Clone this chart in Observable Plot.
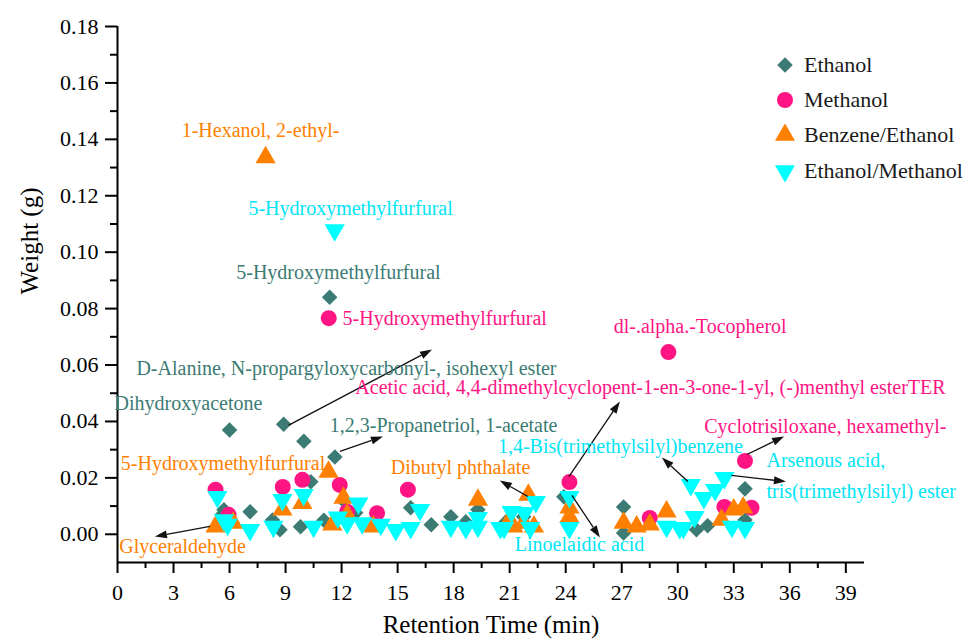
<!DOCTYPE html>
<html><head><meta charset="utf-8">
<script src="https://cdn.jsdelivr.net/npm/d3@7"></script>
<script src="https://cdn.jsdelivr.net/npm/@observablehq/plot@0.6"></script>
<style>
body{margin:0;background:#fff;}
#wrap{position:relative;width:968px;height:644px;}
#legend{position:absolute;left:775px;top:47px;font-family:"Liberation Serif","Times New Roman",serif;font-size:22px;color:#1a1a1a;}
.row{display:flex;align-items:center;height:35.3px;}
.row svg{margin-right:9px;}
</style></head><body><div id="wrap"><div id="legend"></div></div>
<script>
// ---- data ----
const seriesNames = ["Ethanol", "Methanol", "Benzene/Ethanol", "Ethanol/Methanol"];
const seriesColors = ["#3b7b73", "#ff1483", "#ff8000", "#00ffff"];
const labelColors = ["#3b7b73", "#ff1483", "#ff8000", "#00e5f5"];

const ethanolTime = [11.36, 6.0, 8.9, 9.98, 11.64, 10.35, 5.7, 5.6, 7.1, 8.3, 8.7, 9.8, 11.05, 12.1, 12.75, 15.7, 16.8, 17.85, 18.65, 19.3, 20.8, 21.75, 23.9, 27.1, 27.1, 31.0, 31.6, 33.6, 33.6];
const ethanolWeight = [0.084, 0.037, 0.039, 0.033, 0.0274, 0.0186, 0.0087, 0.0069, 0.008, 0.0051, 0.0016, 0.0027, 0.005, 0.012, 0.0076, 0.0094, 0.0034, 0.0062, 0.0044, 0.0087, 0.0044, 0.0062, 0.0133, 0.0097, 0.0005, 0.0016, 0.003, 0.0161, 0.0051];

const methanolTime = [11.31, 29.5, 24.2, 33.6, 5.25, 8.85, 9.9, 11.9, 5.95, 12.3, 13.9, 15.55, 28.5, 32.5, 33.95];
const methanolWeight = [0.0766, 0.0646, 0.0185, 0.026, 0.0158, 0.0168, 0.0193, 0.0175, 0.0069, 0.008, 0.0075, 0.0158, 0.0058, 0.0097, 0.0094];

const benzeneTime = [7.93, 11.3, 8.83, 9.9, 5.25, 6.2, 11.5, 12.1, 12.3, 13.7, 19.3, 20.9, 21.2, 21.75, 22.0, 22.3, 24.2, 24.2, 27.1, 27.8, 28.5, 29.4, 32.35, 33.0, 33.5];
const benzeneWeight = [0.1336, 0.0221, 0.0087, 0.011, 0.0027, 0.004, 0.0034, 0.0129, 0.0069, 0.0027, 0.0122, 0.004, 0.0027, 0.004, 0.014, 0.0027, 0.0094, 0.0062, 0.004, 0.0027, 0.0034, 0.008, 0.0051, 0.0087, 0.0094];

const ethMethTime = [11.63, 5.35, 8.83, 9.97, 5.7, 5.9, 7.1, 8.35, 10.5, 11.8, 12.9, 12.3, 13.1, 14.1, 14.9, 15.7, 16.2, 17.85, 18.65, 19.3, 19.3, 20.5, 20.7, 21.1, 21.8, 22.4, 22.1, 24.2, 24.2, 29.4, 30.1, 30.3, 30.9, 30.7, 31.4, 32.0, 32.5, 32.9, 33.6];
const ethMethWeight = [0.1078, 0.0133, 0.0122, 0.014, 0.005, 0.0034, 0.0016, 0.0027, 0.0027, 0.006, 0.011, 0.004, 0.004, 0.0034, 0.0016, 0.0023, 0.0087, 0.0027, 0.0023, 0.0058, 0.0027, 0.0023, 0.0023, 0.008, 0.0076, 0.0115, 0.0023, 0.0133, 0.0023, 0.0027, 0.0023, 0.0023, 0.0062, 0.0175, 0.0129, 0.0158, 0.02, 0.0027, 0.0023];

const xTicks = [0, 3, 6, 9, 12, 15, 18, 21, 24, 27, 30, 33, 36, 39];
const xMinorTicks = [1.5, 4.5, 7.5, 10.5, 13.5, 16.5, 19.5, 22.5, 25.5, 28.5, 31.5, 34.5, 37.5];
const yTicks = [0, 0.02, 0.04, 0.06, 0.08, 0.10, 0.12, 0.14, 0.16, 0.18];
const yMinorTicks = [0.01, 0.03, 0.05, 0.07, 0.09, 0.11, 0.13, 0.15, 0.17];

// annotations: text, position (data units), series index for colour, anchor
const labelText = [
  "1-Hexanol, 2-ethyl-",
  "5-Hydroxymethylfurfural",
  "5-Hydroxymethylfurfural",
  "5-Hydroxymethylfurfural",
  "dl-.alpha.-Tocopherol",
  "D-Alanine, N-propargyloxycarbonyl-, isohexyl ester",
  "Acetic acid, 4,4-dimethylcyclopent-1-en-3-one-1-yl, (-)menthyl esterTER",
  "Dihydroxyacetone",
  "1,2,3-Propanetriol, 1-acetate",
  "Cyclotrisiloxane, hexamethyl-",
  "1,4-Bis(trimethylsilyl)benzene",
  "5-Hydroxymethylfurfural",
  "Arsenous acid,",
  "tris(trimethylsilyl) ester",
  "Dibutyl phthalate",
  "Glyceraldehyde",
  "Linoelaidic acid"
];
const labelX = [7.66, 12.48, 11.83, 12.05, 31.2, 12.26, 28.54, 3.8, 17.46, 37.9, 26.93, 5.65, 34.75, 34.75, 18.37, 3.48, 24.74];
const labelY = [0.143, 0.1156, 0.0926, 0.0766, 0.0735, 0.0589, 0.0519, 0.0462, 0.0384, 0.038, 0.031, 0.0249, 0.026, 0.015, 0.0235, -0.0042, -0.0038];
const labelSeries = [2, 3, 0, 1, 1, 0, 1, 0, 0, 1, 3, 2, 3, 3, 2, 2, 3];
const labelAnchor = ["middle", "middle", "middle", "start", "middle", "middle", "middle", "middle", "middle", "middle", "middle", "middle", "start", "start", "middle", "middle", "middle"];

// arrows: from (x1,y1) to head at (x2,y2), data units
const arrowX1 = [9.2, 11.94, 4.98, 24.2, 22.0, 24.36, 30.57, 33.73, 32.9];
const arrowY1 = [0.0385, 0.0292, 0.0026, 0.0203, 0.0132, 0.0136, 0.0185, 0.0281, 0.0207];
const arrowX2 = [16.87, 14.24, 2.03, 26.93, 20.5, 25.86, 29.18, 35.72, 35.82];
const arrowY2 = [0.0653, 0.0345, -0.001, 0.0469, 0.0189, -0.0013, 0.027, 0.0345, 0.0185];

// ---- build tables ----
const rows = (t, w) => t.map((x, i) => ({x, y: w[i]}));
const ethanol = rows(ethanolTime, ethanolWeight);
const methanol = rows(methanolTime, methanolWeight);
const benzene = rows(benzeneTime, benzeneWeight);
const ethMeth = rows(ethMethTime, ethMethWeight);
const labels = labelText.map((text, i) => ({text, x: labelX[i], y: labelY[i], fill: labelColors[labelSeries[i]], anchor: labelAnchor[i]}));

const font = "Liberation Serif, Times New Roman, serif";

function arrowsMark(index, scales) {
  const g = d3.create("svg:g");
  for (let i = 0; i < arrowX1.length; i++) {
    const x1 = scales.x(arrowX1[i]), y1 = scales.y(arrowY1[i]);
    const x2 = scales.x(arrowX2[i]), y2 = scales.y(arrowY2[i]);
    const a = Math.atan2(y2 - y1, x2 - x1), L = 12, W = 4;
    const bx = x2 - L * Math.cos(a), by = y2 - L * Math.sin(a);
    g.append("line").attr("x1", x1).attr("y1", y1).attr("x2", bx).attr("y2", by)
      .attr("stroke", "#111").attr("stroke-width", 1.3);
    g.append("path")
      .attr("d", `M${x2},${y2}L${bx - W * Math.sin(a)},${by + W * Math.cos(a)}L${bx + W * Math.sin(a)},${by - W * Math.cos(a)}Z`)
      .attr("fill", "#111");
  }
  return g.node();
}

const chart = Plot.plot({
  width: 968, height: 644,
  marginLeft: 117, marginRight: 104, marginTop: 26, marginBottom: 82,
  x: {domain: [0, 40]},
  y: {domain: [-0.01, 0.18]},
  style: {fontFamily: font, background: "white", color: "black", overflow: "visible"},
  marks: [
    Plot.axisX({ticks: xTicks, tickSize: 11, tickPadding: 11, fontSize: 22, strokeWidth: 2, tickFormat: d => String(d), label: null}),
    Plot.axisX({ticks: xMinorTicks, tickSize: 6, strokeWidth: 2, tickFormat: () => "", label: null}),
    Plot.axisY({ticks: yTicks, tickSize: 12, tickPadding: 7, fontSize: 22, strokeWidth: 2, tickFormat: d3.format(".2f"), label: null}),
    Plot.axisY({ticks: yMinorTicks, tickSize: 7, strokeWidth: 2, tickFormat: () => "", label: null}),
    Plot.ruleX([0], {strokeWidth: 2}),
    Plot.ruleY([-0.01], {strokeWidth: 2}),
    Plot.text(["Retention Time (min)"], {frameAnchor: "bottom", dy: 70, fontSize: 25}),
    Plot.text(["Weight (g)"], {frameAnchor: "left", dx: -88, rotate: -90, fontSize: 25}),
    Plot.dot(ethanol, {x: "x", y: "y", symbol: "diamond2", r: 7, fill: seriesColors[0], stroke: "none"}),
    Plot.dot(methanol, {x: "x", y: "y", symbol: "circle", r: 8, fill: seriesColors[1], stroke: "none"}),
    Plot.dot(benzene, {x: "x", y: "y", symbol: "triangle", r: 7.5, fill: seriesColors[2], stroke: "none"}),
    Plot.dot(ethMeth, {x: "x", y: "y", symbol: "triangle", r: 7.5, rotate: 180, fill: seriesColors[3], stroke: "none"}),
    arrowsMark,
    Plot.text(labels.filter(d => d.anchor === "middle"), {x: "x", y: "y", text: "text", fill: "fill", fontSize: 20, textAnchor: "middle"}),
    Plot.text(labels.filter(d => d.anchor === "start"), {x: "x", y: "y", text: "text", fill: "fill", fontSize: 20, textAnchor: "start"})
  ]
});
document.getElementById("wrap").prepend(chart);

// legend
const legend = d3.select("#legend");
const legendSymbols = [d3.symbolDiamond2, d3.symbolCircle, d3.symbolTriangle, d3.symbolTriangle];
const legendSizes = [Math.PI * 49, Math.PI * 64, Math.PI * 56, Math.PI * 56];
seriesNames.forEach((name, i) => {
  const row = legend.append("div").attr("class", "row");
  const svg = row.append("svg").attr("width", 20).attr("height", 22);
  svg.append("path").attr("d", d3.symbol(legendSymbols[i], legendSizes[i])())
    .attr("transform", `translate(10,11)${i === 3 ? " rotate(180)" : ""}`)
    .attr("fill", seriesColors[i]);
  row.append("span").text(name);
});
</script></body></html>
